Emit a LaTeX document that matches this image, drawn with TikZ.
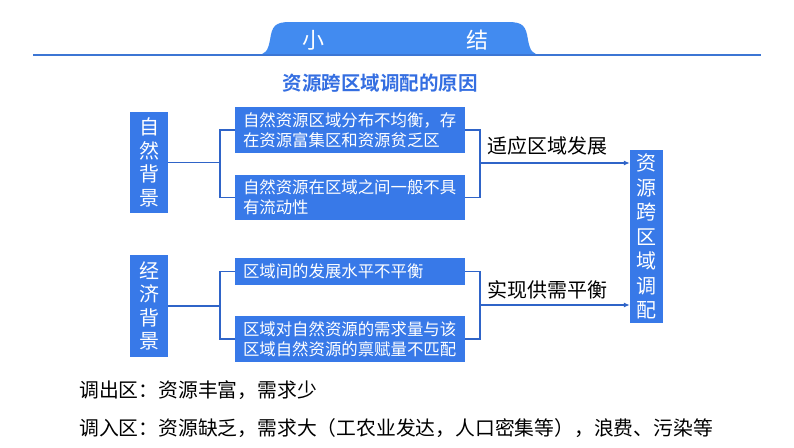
\documentclass[tikz,border=0pt]{standalone}
\usepackage{fontspec}
\setmainfont{Noto Sans CJK SC}[BoldFont={Noto Sans CJK SC Bold}]
\usetikzlibrary{arrows.meta}
\definecolor{boxblue}{RGB}{56,121,232}
\definecolor{tabblue}{RGB}{66,139,240}
\definecolor{lineblue}{RGB}{60,118,212}
\definecolor{linkblue}{RGB}{47,100,200}
\definecolor{titleblue}{RGB}{52,110,225}
\tikzset{
  sidebox/.style={fill=boxblue,text=white,inner sep=0pt,minimum width=38pt,align=center,
    font=\fontsize{20}{23.5}\selectfont},
  reasonbox/.style={fill=boxblue,text=white,inner xsep=8pt,inner ysep=0pt,text width=214pt,
    align=left,font=\fontsize{16.4}{20}\selectfont},
  link/.style={draw=linkblue,line width=1.4pt},
  arrowlink/.style={link,-{Latex[length=6pt,width=5pt]}}
}
\begin{document}
\begin{tikzpicture}[x=1pt,y=-1pt]
\useasboundingbox (0,0) rectangle (794,447);
% heading tab
\fill[tabblue] (256,55) .. controls (266,55) and (268,50) .. (270,40) .. controls (272,26) and (275,22) .. (290,22) -- (508,22) .. controls (523,22) and (526,26) .. (528,40) .. controls (530,50) and (532,55) .. (542,55) -- cycle;
\coordinate (h1) at (33,55);
\coordinate (h2) at (761,55);
\draw[lineblue,line width=2pt] (h1) -- (h2);
\node[text=white,font=\fontsize{22}{24}\selectfont] (t1) at (313,40) {小};
\node[text=white,font=\fontsize{22}{24}\selectfont] (t2) at (477,40) {结};
\node[text=titleblue,font=\fontsize{19.5}{22}\selectfont\bfseries] (t3) at (380,83) {资源跨区域调配的原因};
% left
\node[sidebox,minimum height=101pt] (v1) at (149,162.5) {自\\然\\背\\景};
\node[sidebox,minimum height=102pt] (v2) at (149,306) {经\\济\\背\\景};
% reasons
\node[reasonbox,minimum height=46pt] (v3) at (350,130) {自然资源区域分布不均衡，存\\在资源富集区和资源贫乏区};
\node[reasonbox,minimum height=45pt] (v4) at (350,197.5) {自然资源在区域之间一般不具\\有流动性};
\node[reasonbox,minimum height=27pt] (v5) at (350,271.5) {区域间的发展水平不平衡};
\node[reasonbox,minimum height=46pt] (v6) at (350,339) {区域对自然资源的需求量与该\\区域自然资源的禀赋量不匹配};
% result
\node[sidebox,minimum width=33pt,minimum height=173pt,font=\fontsize{20}{24.5}\selectfont] (v7) at (646.5,236.5) {资\\源\\跨\\区\\域\\调\\配};
% brackets
\coordinate (b1) at (220,162.5);
\coordinate (b2) at (220,306);
\coordinate (c1) at (480,163);
\coordinate (c2) at (480,305);
\draw[link] (v1.east) -- (b1);
\draw[link] (v3.west) -| (b1);
\draw[link] (v4.west) -| (b1);
\draw[link] (v2.east) -- (b2);
\draw[link] (v5.west) -| (b2);
\draw[link] (v6.west) -| (b2);
\draw[link] (v3.east) -| (c1);
\draw[link] (v4.east) -| (c1);
\draw[link] (v5.east) -| (c2);
\draw[link] (v6.east) -| (c2);
\draw[arrowlink] (c1) -- (c1 -| v7.west);
\draw[arrowlink] (c2) -- (c2 -| v7.west);
\node[font=\fontsize{20}{22}\selectfont] (v8) at (547,146) {适应区域发展};
\node[font=\fontsize{20}{22}\selectfont] (v9) at (547,290) {实现供需平衡};
% notes
\node[anchor=west,inner sep=0pt,font=\fontsize{19.8}{22}\selectfont] (n1) at (79,390) {调出区：资源丰富，需求少};
\node[anchor=west,inner sep=0pt,font=\fontsize{19.8}{22}\selectfont] (n2) at (79,428) {调入区：资源缺乏，需求大（工农业发达，人口密集等），浪费、污染等};
\end{tikzpicture}
\end{document}
